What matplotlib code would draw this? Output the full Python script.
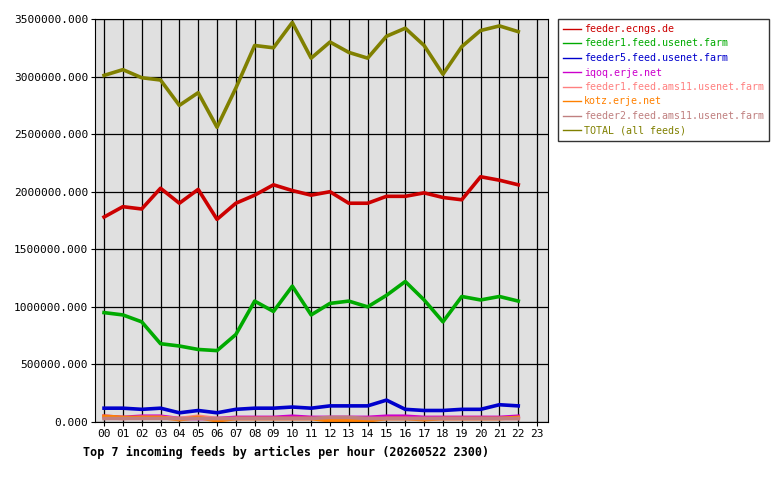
import matplotlib
matplotlib.use("Agg")
import matplotlib.pyplot as plt
import numpy as np

hours = [f"{h:02d}" for h in range(24)]
ecngs = [1.78, 1.87, 1.85, 2.03, 1.90, 2.02, 1.76, 1.90, 1.97, 2.06, 2.01, 1.97, 2.00,
         1.90, 1.90, 1.96, 1.96, 1.99, 1.95, 1.93, 2.13, 2.10, 2.06]
usenet1 = [0.95, 0.93, 0.87, 0.68, 0.66, 0.63, 0.62, 0.76, 1.05, 0.96, 1.18, 0.93, 1.03,
           1.05, 1.00, 1.10, 1.22, 1.06, 0.87, 1.09, 1.06, 1.09, 1.05]
usenet5 = [0.12, 0.12, 0.11, 0.12, 0.08, 0.10, 0.08, 0.11, 0.12, 0.12, 0.13, 0.12, 0.14,
           0.14, 0.14, 0.19, 0.11, 0.10, 0.10, 0.11, 0.11, 0.15, 0.14]
iqoq = [0.05, 0.04, 0.05, 0.05, 0.03, 0.03, 0.03, 0.04, 0.04, 0.04, 0.05, 0.04, 0.04,
        0.04, 0.04, 0.05, 0.05, 0.04, 0.04, 0.04, 0.04, 0.04, 0.05]
ams1 = [0.04, 0.03, 0.04, 0.04, 0.03, 0.05, 0.03, 0.03, 0.03, 0.03, 0.03, 0.03, 0.03,
        0.03, 0.03, 0.03, 0.03, 0.03, 0.03, 0.03, 0.03, 0.03, 0.03]
kotz = [0.05, 0.04, 0.04, 0.04, 0.02, 0.04, 0.01, 0.03, 0.03, 0.03, 0.03, 0.03, 0.01,
        0.01, 0.01, 0.03, 0.03, 0.02, 0.03, 0.03, 0.03, 0.03, 0.04]
ams2 = [0.03, 0.03, 0.03, 0.03, 0.03, 0.03, 0.03, 0.03, 0.03, 0.03, 0.03, 0.03, 0.04,
        0.04, 0.03, 0.03, 0.03, 0.03, 0.03, 0.03, 0.03, 0.03, 0.03]
total = [3.01, 3.06, 2.99, 2.97, 2.75, 2.86, 2.56, 2.90, 3.27, 3.25, 3.47, 3.16, 3.30,
         3.21, 3.16, 3.35, 3.42, 3.27, 3.02, 3.26, 3.40, 3.44, 3.39]

series = [
    ("feeder.ecngs.de", ecngs, "#cc0000"),
    ("feeder1.feed.usenet.farm", usenet1, "#00aa00"),
    ("feeder5.feed.usenet.farm", usenet5, "#0000cc"),
    ("iqoq.erje.net", iqoq, "#cc00cc"),
    ("feeder1.feed.ams11.usenet.farm", ams1, "#ff8080"),
    ("kotz.erje.net", kotz, "#ff8000"),
    ("feeder2.feed.ams11.usenet.farm", ams2, "#c08080"),
    ("TOTAL (all feeds)", total, "#808000"),
]

plt.rcParams["font.family"] = "DejaVu Sans Mono"
fig = plt.figure(figsize=(7.8, 4.8), dpi=100)
ax = fig.add_axes([95 / 780, 58 / 480, 453 / 780, 403 / 480])
ax.set_facecolor("#e0e0e0")
x = np.arange(len(total))
for name, vals, col in series:
    ax.plot(x, np.array(vals) * 1e6, color=col, linewidth=2.6, label=name)
ax.set_xlim(-0.48, 23.58)
ax.set_ylim(0, 3.5e6)
ax.set_xticks(range(24))
ax.set_xticklabels(hours, fontsize=8)
yt = np.arange(0, 3.5e6 + 1, 5e5)
ax.set_yticks(yt)
ax.set_yticklabels([f"{v:.3f}" for v in yt], fontsize=8)
ax.grid(True, color="black", linewidth=0.9)
ax.set_axisbelow(True)
ax.tick_params(length=3, pad=2)
for s in ax.spines.values():
    s.set_color("black")
fig.text(83 / 780, 1 - 452 / 480, "Top 7 incoming feeds by articles per hour (20260522 2300)",
         fontsize=8.5, fontweight="bold", va="center")
leg = fig.legend(loc="upper left", bbox_to_anchor=(558 / 780, 1 - 19 / 480), fontsize=7.2,
                 frameon=True, fancybox=False, edgecolor="black", handlelength=1.8,
                 borderaxespad=0, borderpad=0.5, labelspacing=0.45, handletextpad=0.3)
leg.get_frame().set_linewidth(1)
for t, (_, _, col) in zip(leg.get_texts(), series):
    t.set_color(col)
for h in leg.get_lines():
    h.set_linewidth(1)
fig.savefig("out.png", dpi=100)
